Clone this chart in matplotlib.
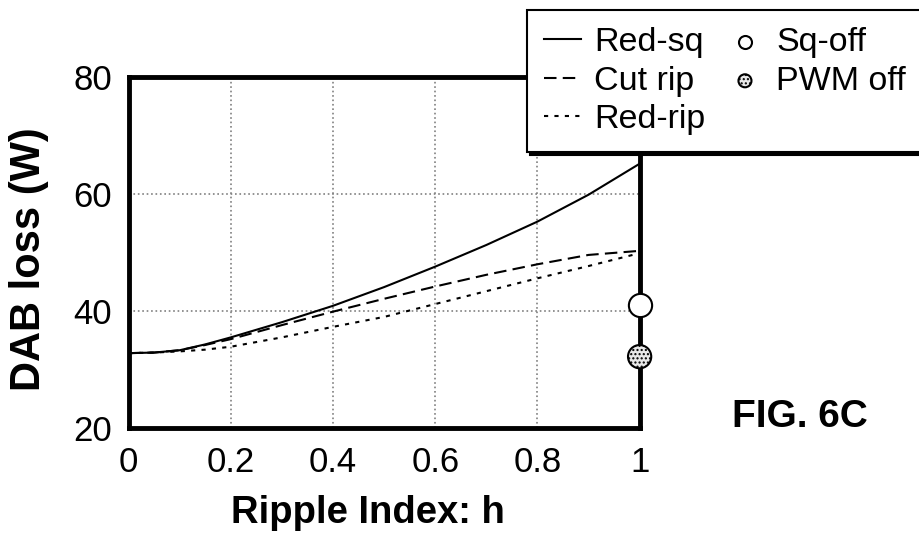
import matplotlib
matplotlib.use("Agg")
import matplotlib.pyplot as plt

plt.rcParams['font.family'] = ['Liberation Sans', 'DejaVu Sans']

# ripple index h
h = [0.0, 0.05, 0.1, 0.15, 0.2, 0.3, 0.4, 0.5, 0.6, 0.7, 0.8, 0.9, 1.0]
# DAB loss (W)
red_sq = [32.8, 32.9, 33.3, 34.3, 35.5, 38.1, 40.9, 44.1, 47.6, 51.3, 55.3, 59.9, 65.2]
cut_rip = [32.8, 32.9, 33.3, 34.2, 35.2, 37.6, 39.9, 42.1, 44.2, 46.2, 48.0, 49.6, 50.3]
red_rip = [32.8, 32.9, 33.1, 33.4, 33.9, 35.5, 37.3, 39.0, 41.2, 43.4, 45.6, 47.7, 49.9]
sq_off_h, sq_off = [1.0], [41.0]
pwm_off_h, pwm_off = [1.0], [32.2]

xticks = [0, 0.2, 0.4, 0.6, 0.8, 1]
xticklabels = ["0", "0.2", "0.4", "0.6", "0.8", "1"]
yticks = [20, 40, 60, 80]

fig = plt.figure(figsize=(9.19, 5.38), dpi=100)
ax = fig.add_axes([0.140, 0.2045, 0.556, 0.652])

ax.plot(h, red_sq, color="black", linewidth=1.5, label="Red-sq")
ax.plot(h, cut_rip, color="black", linewidth=1.5, linestyle=(0, (6, 3)), label="Cut rip")
ax.plot(h, red_rip, color="black", linewidth=1.5, linestyle=(0, (2, 3)), label="Red-rip")
ax.scatter(sq_off_h, sq_off, s=280, facecolor="white", edgecolor="black",
           linewidth=1.5, zorder=5, clip_on=False, label="Sq-off")
ax.scatter(pwm_off_h, pwm_off, s=280, facecolor="#e8e8e8", edgecolor="black",
           linewidth=1.5, hatch="....", zorder=5, clip_on=False, label="PWM off")

ax.set_xlim(0, 1)
ax.set_ylim(20, 80)
ax.set_xticks(xticks)
ax.set_xticklabels(xticklabels)
ax.set_yticks(yticks)
ax.tick_params(length=0, labelsize=25)
ax.tick_params(axis="x", pad=13)
ax.tick_params(axis="y", pad=12)
ax.grid(True, color="gray", linestyle=":", linewidth=1.2)
for sp in ax.spines.values():
    sp.set_linewidth(3.5)

ax.set_xlabel("Ripple Index: h", fontsize=27.5, fontweight="bold", va="center")
ax.xaxis.set_label_coords(0.468, -0.242)
ax.set_ylabel("DAB loss (W)", fontsize=30, fontweight="bold", va="center")
ax.yaxis.set_label_coords(-0.195, 0.48)

leg = fig.legend(ncol=2, loc="upper left", bbox_to_anchor=(0.5735, 0.981),
                 borderaxespad=0, fontsize=24.5, frameon=True, fancybox=False,
                 shadow={"color": "black", "alpha": 1},
                 handlelength=1.09, handletextpad=0.38, columnspacing=0.62,
                 labelspacing=0.22, borderpad=0.5, markerscale=0.56)
leg.get_frame().set_edgecolor("black")
leg.get_frame().set_linewidth(1.5)

fig.text(0.870, 0.224, "FIG. 6C", fontsize=28, fontweight="bold", ha="center", va="center")

fig.savefig("out.png", dpi=100)
